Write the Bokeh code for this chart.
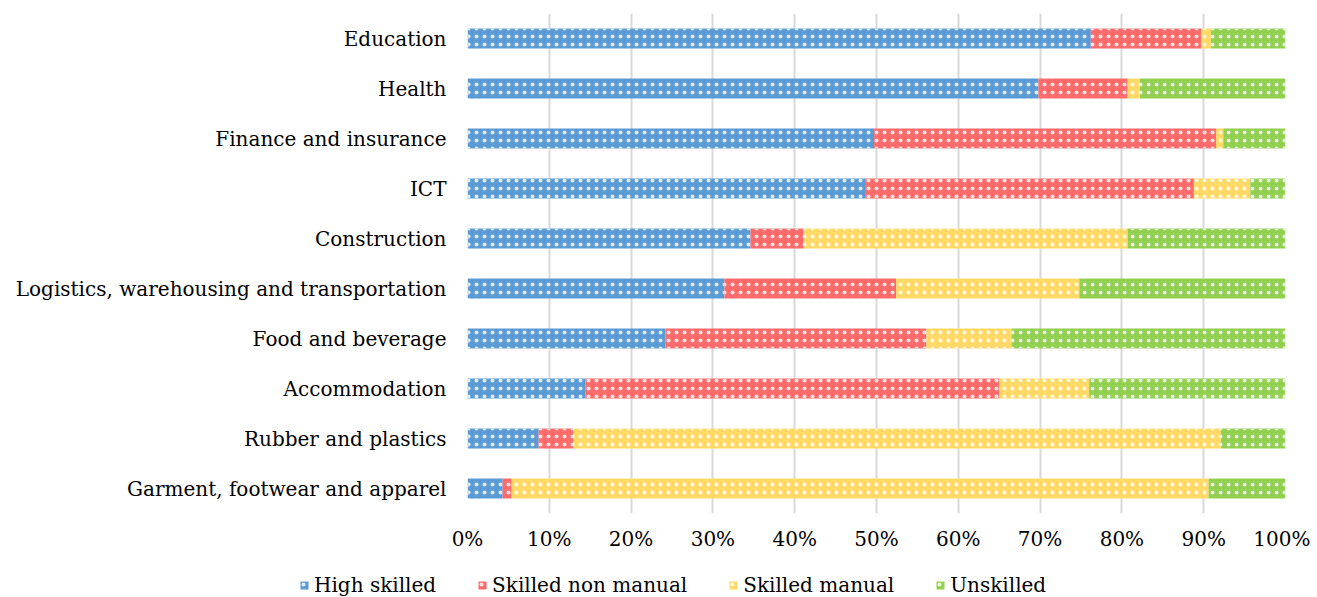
from bokeh.plotting import figure
from bokeh.models import ColumnDataSource, FactorRange, NumeralTickFormatter, Legend, LegendItem, FixedTicker
from bokeh.layouts import column
from bokeh.embed import file_html
from bokeh.resources import INLINE

categories = ["Education", "Health", "Finance and insurance", "ICT", "Construction",
              "Logistics, warehousing and transportation", "Food and beverage",
              "Accommodation", "Rubber and plastics", "Garment, footwear and apparel"]
high_skilled = [76.2, 69.8, 49.7, 48.6, 34.6, 31.4, 24.2, 14.4, 8.7, 4.3]
skilled_non_manual = [13.5, 10.9, 41.8, 40.2, 6.5, 21.0, 31.9, 50.6, 4.2, 1.1]
skilled_manual = [1.2, 1.5, 0.9, 6.9, 39.6, 22.4, 10.4, 11.0, 79.2, 85.2]
unskilled = [9.1, 17.8, 7.6, 4.3, 19.3, 25.2, 33.5, 24.0, 7.9, 9.4]
series_names = ["High skilled", "Skilled non manual", "Skilled manual", "Unskilled"]
colors = ["#5B9BD5", "#FF6B6B", "#FFD966", "#92D050"]
x_ticks = [0, 0.1, 0.2, 0.3, 0.4, 0.5, 0.6, 0.7, 0.8, 0.9, 1.0]

keys = ["hs", "snm", "sm", "us"]
data = {"cat": categories}
for k, vals in zip(keys, [high_skilled, skilled_non_manual, skilled_manual, unskilled]):
    data[k] = [v / 100.0 for v in vals]
source = ColumnDataSource(data)

FONT = "DejaVu Serif"
FSIZE = "20px"
hatch = dict(hatch_pattern="dot", hatch_color="white", hatch_alpha=0.8,
             hatch_scale=8, hatch_weight=1.3)

p = figure(width=1310, height=561, y_range=FactorRange(factors=list(reversed(categories))),
           x_range=(0, 1), output_backend="svg", toolbar_location=None,
           min_border_left=467, min_border_right=25, min_border_top=13, min_border_bottom=48)
p.y_range.range_padding = 0
p.outline_line_color = None
p.frame_align = False

p.hbar_stack(keys, y="cat", height=0.4, color=colors, source=source, line_color=None, **hatch)

p.xaxis.ticker = FixedTicker(ticks=x_ticks)
p.xaxis.formatter = NumeralTickFormatter(format="0%")
p.xaxis.axis_line_color = None
p.xaxis.major_tick_line_color = None
p.xaxis.minor_tick_line_color = None
p.xaxis.major_tick_out = 0
p.xaxis.major_tick_in = 0
p.xaxis.major_label_text_font = FONT
p.xaxis.major_label_text_font_size = FSIZE
p.xaxis.major_label_text_color = "#000000"
p.xaxis.major_label_standoff = 13

p.yaxis.axis_line_color = None
p.yaxis.major_tick_line_color = None
p.yaxis.minor_tick_line_color = None
p.yaxis.major_tick_out = 0
p.yaxis.major_tick_in = 0
p.yaxis.major_label_text_font = FONT
p.yaxis.major_label_text_font_size = FSIZE
p.yaxis.major_label_text_color = "#000000"
p.yaxis.major_label_standoff = 21

p.xgrid.grid_line_color = "#D9D9D9"
p.xgrid.grid_line_width = 2
p.xgrid.ticker = FixedTicker(ticks=x_ticks)
p.ygrid.grid_line_color = None

# Legend strip below the chart
lf = figure(width=1310, height=36, y_range=FactorRange(factors=list(reversed(categories))),
            x_range=(0, 1), output_backend="svg", toolbar_location=None,
            x_axis_type=None, y_axis_type=None,
            min_border_left=0, min_border_right=0, min_border_top=0, min_border_bottom=0)
lf.outline_line_color = None
lf.frame_align = False
lf.xgrid.visible = False
lf.ygrid.visible = False
leg_renderers = lf.hbar_stack(keys, y="cat", height=0.4, color=colors, source=source,
                              line_color=None, **hatch)
for r in leg_renderers:
    r.visible = False

legend = Legend(items=[LegendItem(label=n, renderers=[r]) for n, r in zip(series_names, leg_renderers)],
                orientation="horizontal", location=(299, 0),
                label_text_font=FONT, label_text_font_size=FSIZE, label_text_color="#000000",
                glyph_width=10, glyph_height=10, spacing=41, label_standoff=5,
                border_line_color=None, background_fill_alpha=0, padding=4, margin=0,
                inactive_fill_alpha=0)
lf.add_layout(legend, "center")

layout = column(p, lf, spacing=0)
open("out.html", "w").write(file_html(layout, INLINE))
